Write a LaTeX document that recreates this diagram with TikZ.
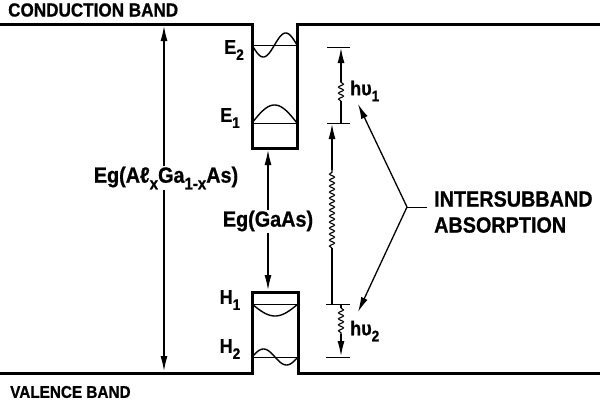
\documentclass[tikz,border=0pt]{standalone}
\usepackage{fontspec}
\setmainfont{Liberation Sans}[FakeStretch=0.9,BoldFeatures={FakeBold=0.8}]
\usetikzlibrary{arrows.meta,decorations.pathmorphing}
\newcommand{\lsub}[1]{\raisebox{-0.3em}{\scalebox{0.76}{#1}}}
\begin{document}
\begin{tikzpicture}[x=1pt,y=-1pt,
  band/.style={line width=3pt},
  level/.style={line width=0.9pt},
  wave/.style={line width=1.4pt},
  tick/.style={line width=0.8pt},
  shaft/.style={line width=1.2pt},
  arr/.style={line width=1.3pt,-{Latex[length=15pt,width=7pt]}},
  wig/.style={line width=1.1pt,decorate,decoration={snake,amplitude=2.5pt,segment length=6pt}},
  lbl/.style={font=\bfseries\fontsize{22}{26}\selectfont,inner sep=1pt},
  small/.style={font=\bfseries\fontsize{20}{22}\selectfont,inner sep=1pt},
]
\useasboundingbox (0,0) rectangle (600,402);

% bands and wells
\draw[band] (0,24) -- (252,24) -- (252,148) -- (297,148) -- (297,24) -- (600,24);
\draw[band] (0,373) -- (252,373) -- (252,292) -- (298,292) -- (298,373) -- (600,373);

% subband levels
\draw[level] (252,45) -- (297,45);
\draw[wave] plot[domain=0:45,samples=50,smooth] ({252+\x},{45+12*sin(8*\x)});
\draw[level] (252,123) -- (297,123);
\draw[wave] plot[domain=0:45,samples=40,smooth] ({252+\x},{123-18*sin(4*\x)});
\draw[level] (252,304) -- (298,304);
\draw[wave] plot[domain=0:46,samples=40,smooth] ({252+\x},{304+12*sin(180/46*\x)});
\draw[level] (252,357) -- (298,357);
\draw[wave] plot[domain=0:46,samples=50,smooth] ({252+\x},{357-8*sin(360/46*\x)});

% labels
\node[small,anchor=west,font=\bfseries\fontsize{19}{20}\selectfont] (cb) at (7,10) {CONDUCTION BAND};
\node[small,anchor=west,font=\bfseries\fontsize{17}{18}\selectfont] (vb) at (9,392) {VALENCE BAND};
\node[small] (e2) at (234,50) {E\lsub{2}};
\node[small] (e1) at (230,118) {E\lsub{1}};
\node[small] (h1) at (230,300) {H\lsub{1}};
\node[small] (h2) at (230,349) {H\lsub{2}};

% band gap arrows
\node[lbl] (egal) at (166,178) {Eg(Aℓ\lsub{x}Ga\lsub{1-x}As)};
\coordinate (cbtop) at (164,26);
\coordinate (vbbot) at (164,371);
\draw[arr] (egal.north -| cbtop) -- (cbtop);
\draw[arr] (egal.south -| vbbot) -- (vbbot);

\node[lbl] (eggaas) at (268,221) {Eg(GaAs)};
\coordinate (wtop) at (268,150);
\coordinate (wbot) at (268,290);
\draw[arr] (eggaas.north -| wtop) -- (wtop);
\draw[arr] (eggaas.south -| wbot) -- (wbot);

% transition ticks
\coordinate (t1a) at (327,47); \coordinate (t1b) at (350,47);
\coordinate (t2a) at (327,123); \coordinate (t2b) at (350,123);
\coordinate (t3a) at (326,304); \coordinate (t3b) at (350,304);
\coordinate (t4a) at (326,357); \coordinate (t4b) at (350,357);
\draw[tick] (t1a) -- (t1b);
\draw[tick] (t2a) -- (t2b);
\draw[tick] (t3a) -- (t3b);
\draw[tick] (t4a) -- (t4b);

% h nu 1
\coordinate (a1s) at (341,123);
\coordinate (a1w) at (341,101);
\coordinate (a1v) at (341,82);
\coordinate (a1t) at (341,48);
\draw[shaft] (a1s) -- (a1w);
\draw[wig] (a1w) -- (a1v);
\draw[arr] (a1v) -- (a1t);
\node[small,anchor=west] (hv1) at (349,91) {hυ\lsub{1}};

% interband
\coordinate (b1s) at (332,304);
\coordinate (b1w) at (332,248);
\coordinate (b1v) at (332,170);
\coordinate (b1t) at (332,124);
\draw[shaft] (b1s) -- (b1w);
\draw[wig] (b1w) -- (b1v);
\draw[arr] (b1v) -- (b1t);

% h nu 2
\coordinate (c1s) at (341,304);
\coordinate (c1w) at (341,308);
\coordinate (c1v) at (341,334);
\coordinate (c1t) at (341,356);
\draw[shaft] (c1s) -- (c1w);
\draw[wig] (c1w) -- (c1v);
\draw[arr] (c1v) -- (c1t);
\node[small,anchor=west] (hv2) at (349,331) {hυ\lsub{2}};

% intersubband absorption
\node[lbl,anchor=west,align=left] (isb) at (433,212) {INTERSUBBAND\\ABSORPTION};
\coordinate (j) at (407,207);
\coordinate (jt) at (427,207);
\draw[tick,line width=1pt] (j) -- (jt);
\coordinate (up) at (358,104);
\coordinate (dn) at (358,312);
\draw[arr] (j) -- (up);
\draw[arr] (j) -- (dn);
\end{tikzpicture}
\end{document}
